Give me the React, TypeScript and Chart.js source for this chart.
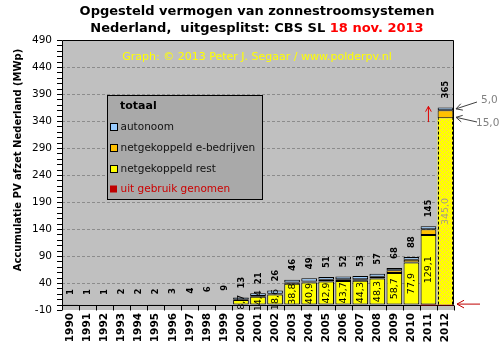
import React, { useEffect, useRef } from "react";
import { Chart, registerables } from "chart.js";
Chart.register(...registerables);

const years = ["1990","1991","1992","1993","1994","1995","1996","1997","1998","1999","2000","2001","2002","2003","2004","2005","2006","2007","2008","2009","2010","2011","2012"];
const totals = [1,1,1,2,2,2,3,4,6,9,13,21,26,46,49,51,52,53,57,68,88,145,365];
const netRest = [null,null,null,null,null,null,null,null,null,null,8.7,14.4,18.6,38.8,40.9,42.9,43.7,44.3,48.3,58.7,77.9,129.1,345.0];
const netEBedrijven = [null,null,null,null,null,null,null,null,null,null,0.3,1.6,1.4,2.0,2.0,3.0,3.2,2.5,3.5,4.8,5.0,10.5,15.0];
const autonoom = [0.5,null,null,null,null,0.5,null,null,null,null,4.0,5.0,6.0,5.2,6.1,5.1,5.1,6.2,5.2,4.5,5.1,5.4,5.0];
const uitGebruik = [null,null,null,null,null,null,null,null,null,null,null,null,null,null,null,null,null,null,null,null,null,-1.5,-1.5];
const yTicks = [-10,40,90,140,190,240,290,340,390,440,490];
const lastTopValues = ["5,0", "15,0"];

const FONT = "'DejaVu Sans', Verdana, sans-serif";
const YELLOW = "#FFFF00";
const ORANGE = "#FFC000";
const BLUE = "#99CCFF";
const RED = "#C00000";

function fmt(v: number) {
  return v.toFixed(1).replace(".", ",");
}

function makePattern(): CanvasPattern | string {
  const c = document.createElement("canvas");
  c.width = 4; c.height = 4;
  const g = c.getContext("2d");
  if (!g) return YELLOW;
  g.fillStyle = YELLOW;
  g.fillRect(0, 0, 4, 4);
  g.fillStyle = "#FFC860";
  g.fillRect(0, 0, 1, 1);
  g.fillRect(2, 2, 1, 1);
  const p = g.createPattern(c, "repeat");
  return p || YELLOW;
}

function arrow(ctx: CanvasRenderingContext2D, x1: number, y1: number, x2: number, y2: number, color: string, head: number) {
  ctx.save();
  ctx.strokeStyle = color;
  ctx.lineWidth = 1;
  ctx.beginPath();
  ctx.moveTo(x1, y1);
  ctx.lineTo(x2, y2);
  const a = Math.atan2(y2 - y1, x2 - x1);
  ctx.moveTo(x2, y2);
  ctx.lineTo(x2 - head * Math.cos(a - 0.5), y2 - head * Math.sin(a - 0.5));
  ctx.moveTo(x2, y2);
  ctx.lineTo(x2 - head * Math.cos(a + 0.5), y2 - head * Math.sin(a + 0.5));
  ctx.stroke();
  ctx.restore();
}

const decor = {
  id: "decor",
  beforeDraw(chart: any) {
    const { ctx, chartArea: ca, scales } = chart;
    const y = scales.y;
    ctx.save();
    ctx.fillStyle = "#FFFFFF";
    ctx.fillRect(0, 0, chart.width, chart.height);
    ctx.fillStyle = "#C0C0C0";
    ctx.fillRect(ca.left, ca.top, ca.right - ca.left, ca.bottom - ca.top);
    ctx.strokeStyle = "#8C8C8C";
    ctx.lineWidth = 1;
    ctx.setLineDash([3, 2]);
    for (const v of yTicks) {
      if (v === 490 || v === -10) continue;
      const py = Math.round(y.getPixelForValue(v)) + 0.5;
      ctx.beginPath();
      ctx.moveTo(ca.left, py);
      ctx.lineTo(ca.right, py);
      ctx.stroke();
    }
    ctx.setLineDash([]);
    ctx.restore();
  },
  beforeDatasetsDraw(chart: any) {
    const { ctx, chartArea: ca, scales } = chart;
    const y = scales.y;
    const x = scales.x;
    ctx.save();
    ctx.strokeStyle = "#000";
    ctx.lineWidth = 1;
    const y0 = Math.round(y.getPixelForValue(0)) + 0.5;
    ctx.beginPath();
    ctx.moveTo(ca.left, y0);
    ctx.lineTo(ca.right, y0);
    ctx.stroke();
    const step = (ca.right - ca.left) / years.length;
    for (let i = 0; i <= years.length; i++) {
      const px = Math.round(x.getPixelForValue(i) - step / 2) + 0.5;
      ctx.beginPath();
      ctx.moveTo(px, y0);
      ctx.lineTo(px, y0 + 5);
      ctx.stroke();
    }
    ctx.restore();
  },
  afterDatasetsDraw(chart: any) {
    const { ctx, chartArea: ca, scales } = chart;
    const y = scales.y;
    const x = scales.x;
    ctx.save();
    const meta0 = chart.getDatasetMeta(0);
    const last = meta0.data[years.length - 1];
    if (last) {
      const l = Math.round(last.x - last.width / 2) + 0.5;
      const r = Math.round(last.x + last.width / 2) - 0.5;
      ctx.strokeStyle = "#000";
      ctx.setLineDash([3, 2]);
      ctx.beginPath();
      ctx.moveTo(l, last.base);
      ctx.lineTo(l, last.y);
      ctx.moveTo(r, last.base);
      ctx.lineTo(r, last.y);
      ctx.stroke();
      ctx.setLineDash([]);
    }
    ctx.save();
    ctx.beginPath();
    ctx.rect(ca.left, ca.top, ca.right - ca.left, ca.bottom - ca.top);
    ctx.clip();
    meta0.data.forEach((el: any, i: number) => {
      const v = netRest[i];
      if (v == null) return;
      const cy = (el.y + el.base) / 2;
      ctx.save();
      ctx.translate(el.x, cy);
      ctx.rotate(-Math.PI / 2);
      ctx.font = `9.5px ${FONT}`;
      ctx.textAlign = "center";
      ctx.textBaseline = "middle";
      ctx.fillStyle = i === years.length - 1 ? "#A8A07A" : "#000";
      ctx.fillText(fmt(v), 0, 0.5);
      ctx.restore();
    });
    ctx.restore();
    totals.forEach((t, i) => {
      const px = x.getPixelForValue(i);
      const py = y.getPixelForValue(t) - 9;
      ctx.save();
      ctx.translate(px, py);
      ctx.rotate(-Math.PI / 2);
      ctx.font = `bold 8.5px ${FONT}`;
      ctx.textAlign = "left";
      ctx.textBaseline = "middle";
      ctx.fillStyle = "#000";
      ctx.fillText(String(t), 0, 0.5);
      ctx.restore();
    });
    ctx.restore();
  },
  afterDraw(chart: any) {
    const { ctx, chartArea: ca, scales } = chart;
    const y = scales.y;
    const x = scales.x;
    ctx.save();
    ctx.strokeStyle = "#000";
    ctx.lineWidth = 1;
    ctx.beginPath();
    ctx.moveTo(ca.left + 0.5, ca.bottom);
    ctx.lineTo(ca.left + 0.5, ca.top + 0.5);
    ctx.lineTo(ca.right - 0.5, ca.top + 0.5);
    ctx.lineTo(ca.right - 0.5, y.getPixelForValue(0));
    ctx.stroke();
    for (let v = -10; v <= 490; v += 10) {
      const py = Math.round(y.getPixelForValue(v)) + 0.5;
      ctx.beginPath();
      ctx.moveTo(ca.left - 5, py);
      ctx.lineTo(ca.left, py);
      ctx.stroke();
    }
    ctx.save();
    ctx.translate(18, 160);
    ctx.rotate(-Math.PI / 2);
    ctx.font = `bold 10px ${FONT}`;
    ctx.textAlign = "center";
    ctx.textBaseline = "middle";
    ctx.fillStyle = "#000";
    ctx.fillText("Accumulatie PV afzet Nederland (MWp)", 0, 0);
    ctx.restore();
    const cx = 257;
    ctx.font = `bold 13px ${FONT}`;
    ctx.textBaseline = "alphabetic";
    ctx.textAlign = "center";
    ctx.fillStyle = "#000";
    ctx.fillText("Opgesteld vermogen van zonnestroomsystemen", cx, 15);
    const p1 = "Nederland,  uitgesplitst: CBS SL ";
    const p2 = "18 nov. 2013";
    const w1 = ctx.measureText(p1).width;
    const w2 = ctx.measureText(p2).width;
    const sx = cx - (w1 + w2) / 2;
    ctx.textAlign = "left";
    ctx.fillText(p1, sx, 32);
    ctx.fillStyle = "#FF0000";
    ctx.fillText(p2, sx + w1, 32);
    ctx.font = `11px ${FONT}`;
    ctx.textAlign = "center";
    ctx.textBaseline = "middle";
    ctx.fillStyle = "#FFFF00";
    ctx.fillText("Graph: \u00A9 2013 Peter J. Segaar / www.polderpv.nl", cx, 57);
    const lx = 107, ly = 95, lw = 155, lh = 104;
    ctx.fillStyle = "#A9A9A9";
    ctx.fillRect(lx, ly, lw, lh);
    ctx.strokeStyle = "#000";
    ctx.strokeRect(lx + 0.5, ly + 0.5, lw, lh);
    ctx.textAlign = "left";
    ctx.fillStyle = "#000";
    ctx.font = `bold 11px ${FONT}`;
    ctx.fillText("totaal", 120, 106);
    const items = [
      { label: "autonoom", color: BLUE, text: "#111" },
      { label: "netgekoppeld e-bedrijven", color: ORANGE, text: "#111" },
      { label: "netgekoppeld rest", color: YELLOW, text: "#111" },
      { label: "uit gebruik genomen", color: RED, text: "#CC0000" },
    ];
    const iy = [127, 148, 169, 189];
    ctx.font = `10.5px ${FONT}`;
    items.forEach((it, k) => {
      const yy = iy[k];
      ctx.fillStyle = it.color;
      if (k < 3) {
        ctx.fillRect(111, yy - 3, 6, 6);
        ctx.strokeStyle = "#000";
        ctx.strokeRect(110.5, yy - 3.5, 7, 7);
      } else {
        ctx.fillRect(110, yy - 3.5, 7, 7);
      }
      ctx.fillStyle = it.text;
      ctx.fillText(it.label, 120.5, yy);
    });
    const ax = x.getPixelForValue(years.length - 2);
    arrow(ctx, ax, y.getPixelForValue(338), ax, y.getPixelForValue(367), "#E00000", 6);
    const y0 = y.getPixelForValue(0);
    arrow(ctx, 480, y0 - 0.5, 457, y0 - 0.5, "#C00000", 8);
    const meta2 = chart.getDatasetMeta(2).data[years.length - 1];
    const meta1 = chart.getDatasetMeta(1).data[years.length - 1];
    if (meta2 && meta1) {
      arrow(ctx, 477, 102, ca.right + 2, (meta2.y + meta2.base) / 2, "#404040", 7);
      arrow(ctx, 477, 122, ca.right + 2, meta1.base - 1, "#404040", 7);
    }
    ctx.fillStyle = "#808080";
    ctx.font = `10.5px ${FONT}`;
    ctx.textAlign = "left";
    ctx.fillText(lastTopValues[0], 481, 100);
    ctx.fillText(lastTopValues[1], 476, 123);
    ctx.restore();
  },
};

export default function App() {
  const ref = useRef<HTMLCanvasElement | null>(null);
  useEffect(() => {
    const canvas = ref.current;
    if (!canvas) return;
    const pattern = makePattern();
    const lastIdx = years.length - 1;
    const chart = new Chart(canvas, {
      type: "bar",
      data: {
        labels: years,
        datasets: [
          {
            label: "netgekoppeld rest",
            data: netRest as any,
            backgroundColor: (c: any) => (c.dataIndex === lastIdx ? pattern : YELLOW),
            borderColor: "#000",
            borderWidth: (c: any) => (c.dataIndex === lastIdx ? 0 : 1),
            borderSkipped: false,
            stack: "s",
          },
          {
            label: "netgekoppeld e-bedrijven",
            data: netEBedrijven as any,
            backgroundColor: ORANGE,
            borderColor: "#000",
            borderWidth: 1,
            borderSkipped: false,
            stack: "s",
          },
          {
            label: "autonoom",
            data: autonoom as any,
            backgroundColor: BLUE,
            borderColor: "#000",
            borderWidth: 1,
            borderSkipped: false,
            stack: "s",
          },
          {
            label: "uit gebruik genomen",
            data: uitGebruik as any,
            backgroundColor: RED,
            borderWidth: 0,
            stack: "s",
          },
        ],
      },
      options: {
        responsive: false,
        animation: false,
        events: [],
        layout: { padding: { top: 40, right: 47, left: 0, bottom: 0 } },
        plugins: { legend: { display: false }, tooltip: { enabled: false }, title: { display: false } },
        datasets: { bar: { barPercentage: 0.92, categoryPercentage: 1 } },
        scales: {
          x: {
            stacked: true,
            grid: { display: false, drawTicks: false },
            border: { display: false },
            ticks: {
              autoSkip: false,
              minRotation: 90,
              maxRotation: 90,
              padding: 3,
              color: "#000",
              font: { family: FONT, size: 10.5, weight: "bold" },
            },
            afterFit: (s: any) => { s.height = 41; },
          },
          y: {
            stacked: true,
            min: -10,
            max: 490,
            grid: { display: false, drawTicks: false },
            border: { display: false },
            ticks: {
              padding: 10,
              color: "#000",
              font: { family: FONT, size: 10.5 },
            },
            afterBuildTicks: (s: any) => { s.ticks = yTicks.map((v) => ({ value: v })); },
            afterFit: (s: any) => { s.width = 62; },
          },
        },
      },
      plugins: [decor],
    } as any);
    return () => chart.destroy();
  }, []);
  return (
    <div style={{ position: "fixed", left: 0, top: 0, width: 501, height: 351 }}>
      <canvas ref={ref} width={501} height={351} style={{ width: 501, height: 351, display: "block" }} />
    </div>
  );
}
